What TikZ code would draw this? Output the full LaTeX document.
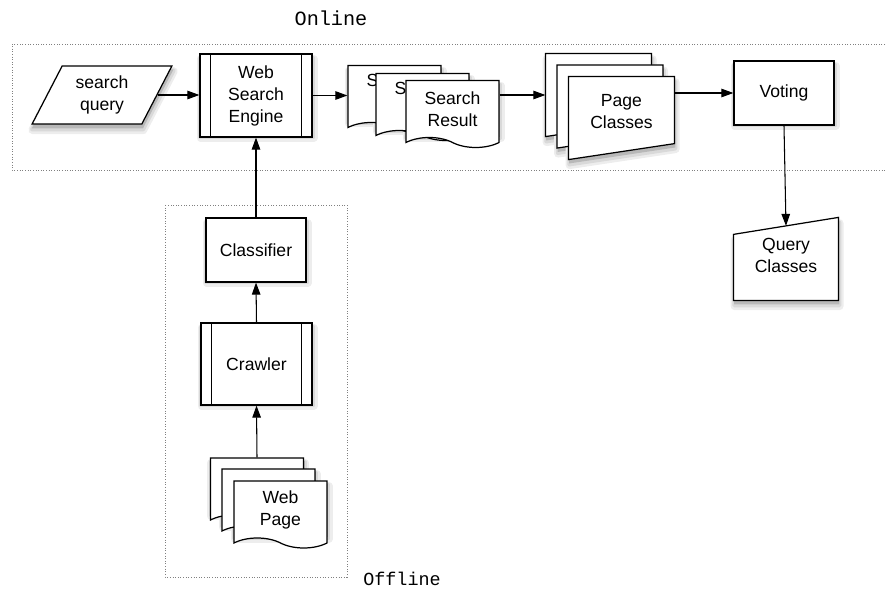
\documentclass[tikz,border=0pt]{standalone}
\usepackage{fontspec}
\setmainfont{Liberation Sans}
\newfontfamily\machine{Liberation Mono}
\usetikzlibrary{shapes.geometric,shapes.symbols,arrows.meta,calc}
\pgfdeclarelayer{fond}
\pgfsetlayers{fond,main}

% ombre portee en trois couches
\newcommand\ombre[1]{%
  \fill[black!7,draw=black!7,line width=4.4pt,line join=round,
    transform canvas={shift={(0.6pt,-3.2pt)}}] #1;
  \fill[black!15,draw=black!15,line width=2.2pt,line join=round,
    transform canvas={shift={(0.5pt,-2.8pt)}}] #1;
  \fill[black!28,transform canvas={shift={(0.4pt,-2.2pt)}}] #1;}

\tikzset{
  boite/.style={draw,fill=white,align=center,inner sep=0pt,
    font=\fontsize{10}{12.5}\selectfont},
  procede/.style={boite,append after command={
    ([xshift=0.22cm]\tikzlastnode.north west) edge ([xshift=0.22cm]\tikzlastnode.south west)
    ([xshift=-0.22cm]\tikzlastnode.north east) edge ([xshift=-0.22cm]\tikzlastnode.south east)}},
  document/.style={boite,tape,tape bend top=none,tape bend bottom=out and in,
    tape bend height=0.2cm,minimum width=1.86cm,minimum height=1.34cm},
  cadre/.style={minimum width=2.1cm,minimum height=1.64cm,inner sep=0pt},
  carte/.style={draw,fill=white},
  texte/.style={align=center,font=\fontsize{10}{12.5}\selectfont},
  fleche/.style={-{Triangle[length=2.4mm,width=1.7mm]},line width=0.6pt},
  zone/.style={densely dotted,gray,line width=0.5pt},
}

\begin{document}
\begin{tikzpicture}[x=0.02cm,y=-0.02cm,line width=0.7pt]
  \useasboundingbox (0,0) rectangle (886,591);

  % ------ zones ---------------
  \draw[zone] (885,44) -- (12,44) -- (12,170) -- (885,170);
  \draw[zone] (165,205) rectangle (347,577);
  \node[font=\machine\fontsize{11.5}{13}\selectfont] (online) at (331,18) {Online};
  \node[font=\machine\fontsize{10.5}{12}\selectfont] (offline) at (402,579) {Offline};

  % ------ partie en ligne ---------------
  \node[boite,trapezium,trapezium left angle=62.6,trapezium right angle=117.4,
    minimum width=2.8cm,minimum height=1.04cm] (sq) at (102,95) {search\\query};
  \node[procede,minimum width=2.24cm,minimum height=1.66cm] (wse) at (256,95.5)
    {Web\\Search\\Engine};

  \node[document] (sr1) at (394.5,94) {Search\\\strut};
  \node[document] (sr2) at (422.5,102) {Search\\\strut};
  \node[document] (sr3) at (452.5,109) {Search\\Result};

  \node[cadre] (pc1) at (598.5,95) {};
  \node[cadre] (pc2) at (610,106.5) {};
  \node[cadre] (pc3) at (621.5,118) {};
  \foreach \i in {1,2,3}
    \filldraw[carte] (pc\i.north west) -- (pc\i.north east)
      -- ([yshift=0.32cm]pc\i.south east) -- (pc\i.south west) -- cycle;
  \node[texte] (pctxt) at ([yshift=0.12cm]pc3.center) {Page\\Classes};

  \node[boite,minimum width=2cm,minimum height=1.28cm] (vote) at (784,93) {Voting};

  \node[cadre,minimum width=2.08cm] (qc) at (786,259) {};
  \filldraw[carte] (qc.south west) -- (qc.south east) -- (qc.north east)
    -- ([yshift=-0.34cm]qc.north west) -- cycle;
  \coordinate (qctop) at ($([yshift=-0.34cm]qc.north west)!0.5!(qc.north east)$);
  \node[texte] (qctxt) at ([yshift=0.08cm]qc.center) {Query\\Classes};

  % ------ partie hors ligne ---------------
  \node[boite,minimum width=2cm,minimum height=1.28cm] (clas) at (256,250) {Classifier};
  \node[procede,minimum width=2.22cm,minimum height=1.64cm] (crawl) at (256.5,364) {Crawler};

  \node[document] (wp1) at (257,486.5) {};
  \node[document] (wp2) at (268.5,497.5) {};
  \node[document] (wp3) at (280.5,509.5) {Web\\Page};

  % ------ ombres ---------------
  \begin{pgfonlayer}{fond}
    \foreach \n in {wse,vote,clas,crawl,sr1,sr2,sr3,wp1,wp2,wp3}
      {\ombre{([yshift=3pt]\n.south west) rectangle (\n.north east)}}
    \foreach \i in {1,2,3}
      {\ombre{(pc\i.north west) -- (pc\i.north east)
        -- ([yshift=0.32cm]pc\i.south east) -- (pc\i.south west) -- cycle}}
    \ombre{(qc.south west) -- (qc.south east) -- (qc.north east)
      -- ([yshift=-0.34cm]qc.north west) -- cycle}
    \ombre{(sq.bottom left corner) -- (sq.bottom right corner)
      -- (sq.top right corner) -- (sq.top left corner) -- cycle}
  \end{pgfonlayer}

  % ------ fleches ---------------
  \draw[fleche] (sq.east) -- (sq.east -| wse.west);
  \draw[fleche] (wse.east) -- (wse.east -| sr1.west);
  \draw[fleche] (sr3.east |- pc1.west) -- (pc1.west);
  \draw[fleche] (pc3.east |- vote.west) -- (vote.west);
  \draw[fleche] (vote.south) -- (qctop);
  \draw[fleche] (clas.north) -- (wse.south);
  \draw[fleche] (crawl.north) -- (clas.south);
  \draw[fleche] (wp1.north) -- (crawl.south);
\end{tikzpicture}
\end{document}
